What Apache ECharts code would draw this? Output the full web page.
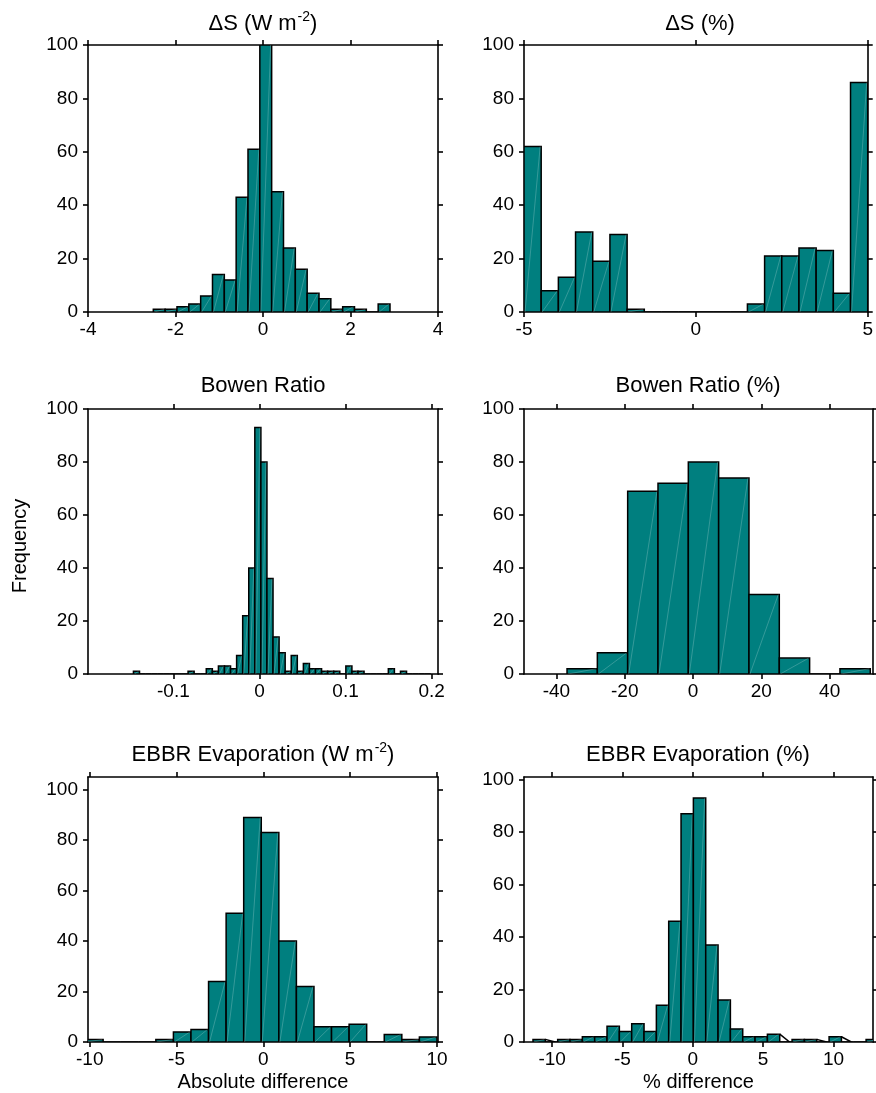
<!DOCTYPE html>
<html lang="en">
<head>
<meta charset="UTF-8" />
<title>Histograms</title>
<script src="https://cdn.jsdelivr.net/npm/echarts@6/dist/echarts.min.js"></script>
<style>
  html, body { margin: 0; padding: 0; background: #fff; }
  #chart { width: 876px; height: 1093px; }
</style>
</head>
<body>
<div id="chart"></div>
<script>
// counts, bin i covers [start + i*width, start + (i+1)*width]
var dsAbsStart = -2.507, dsAbsWidth = 0.2705;
var dsAbsCounts = [1, 1, 2, 3, 6, 14, 12, 43, 61, 100, 45, 24, 16, 7, 5, 1, 2, 1, 0, 3];

var dsPctStart = -5, dsPctWidth = 0.5;
var dsPctCounts = [62, 8, 13, 30, 19, 29, 1, 0, 0, 0, 0, 0, 0, 3, 21, 21, 24, 23, 7, 86];

var brAbsStart = -0.1464, brAbsWidth = 0.00705;
var brAbsCounts = [1, 0, 0, 0, 0, 0, 0, 0, 0, 1, 0, 0, 2, 1, 3, 3, 2, 7, 22, 40,
  93, 80, 36, 14, 8, 1, 7, 1, 4, 2, 2, 1, 1, 1, 0, 3, 1, 1, 0, 0, 0, 0, 2, 0, 1, 0, 0, 0, 0];

var brPctStart = -36.9, brPctWidth = 8.88;
var brPctCounts = [2, 8, 69, 72, 80, 74, 30, 6, 0, 2];

var evAbsStart = -10.24, evAbsWidth = 1.012;
var evAbsCounts = [1, 0, 0, 0, 1, 4, 5, 24, 51, 89, 83, 40, 22, 6, 6, 7, 0, 3, 1, 2];

var evPctStart = -11.36, evPctWidth = 0.877;
var evPctCounts = [1, 0, 1, 1, 2, 2, 6, 4, 7, 4, 14, 46, 87, 93, 37, 16, 5, 2, 2, 3, 0, 1, 1, 0, 2, 0, 0, 1];

// tick labels
var ticksDsAbs = [-4, -2, 0, 2, 4];
var ticksDsPct = [-5, 0, 5];
var ticksBrAbs = [-0.1, 0, 0.1, 0.2];
var ticksBrPct = [-40, -20, 0, 20, 40];
var ticksEvAbs = [-10, -5, 0, 5, 10];
var ticksEvPct = [-10, -5, 0, 5, 10];
var ticksFreq = [0, 20, 40, 60, 80, 100];

var TEAL = '#007f7f';
var FONT = 'Liberation Sans, Arial, Helvetica, sans-serif';

var panels = [
  { start: dsAbsStart, width: dsAbsWidth, counts: dsAbsCounts, ticks: ticksDsAbs, xMin: -4, xMax: 4, yMax: 100,
    grid: { left: 88, top: 45, width: 350, height: 267 } },
  { start: dsPctStart, width: dsPctWidth, counts: dsPctCounts, ticks: ticksDsPct, xMin: -5, xMax: 5, yMax: 100,
    grid: { left: 524, top: 45, width: 349, height: 267 } },
  { start: brAbsStart, width: brAbsWidth, counts: brAbsCounts, ticks: ticksBrAbs, xMin: -0.1992, xMax: 0.2074, yMax: 100,
    grid: { left: 88, top: 409, width: 350, height: 265 } },
  { start: brPctStart, width: brPctWidth, counts: brPctCounts, ticks: ticksBrPct, xMin: -49.5, xMax: 52.7, yMax: 100,
    grid: { left: 524, top: 409, width: 349, height: 265 } },
  { start: evAbsStart, width: evAbsWidth, counts: evAbsCounts, ticks: ticksEvAbs, xMin: -10.1, xMax: 10.06, yMax: 105,
    grid: { left: 88, top: 777, width: 350, height: 265 }, name: 'Absolute difference' },
  { start: evPctStart, width: evPctWidth, counts: evPctCounts, ticks: ticksEvPct, xMin: -12, xMax: 12.81, yMax: 101,
    grid: { left: 524, top: 777, width: 349, height: 266 }, name: '% difference', slope: true }
];

var lineStyle = { color: '#000', width: 1.6 };

function histRender(counts, slope) {
  return function (params, api) {
    var i = params.dataIndex;
    var x0 = api.value(0), x1 = api.value(1), n = api.value(2);
    var bl = api.coord([x0, 0]);
    var tr = api.coord([x1, n]);
    var kids = [{
      type: 'rect',
      shape: { x: bl[0], y: tr[1], width: tr[0] - bl[0], height: bl[1] - tr[1] },
      style: { fill: TEAL, stroke: '#000', lineWidth: 1.5 }
    }];
    if (n > 0) {
      // faint diagonal left by the original polygon fill
      kids.push({
        type: 'line',
        shape: { x1: bl[0] + 1, y1: bl[1], x2: tr[0] - 1, y2: tr[1] },
        style: { stroke: 'rgba(255,255,255,0.3)', lineWidth: 0.7 }
      });
    }
    if (slope && n === 0 && i > 0 && counts[i - 1] > 0) {
      var a = api.coord([x0, counts[i - 1]]);
      var b = api.coord([x0 + 0.8 * (x1 - x0), 0]);
      kids.push({
        type: 'line',
        shape: { x1: a[0], y1: a[1], x2: b[0], y2: b[1] },
        style: { stroke: '#000', lineWidth: 1.5 }
      });
    }
    return { type: 'group', children: kids };
  };
}

var grids = [], xAxes = [], yAxes = [], series = [];
panels.forEach(function (p, k) {
  grids.push(p.grid);
  // bottom + top x axis
  xAxes.push({
    type: 'value', gridIndex: k, position: 'bottom', min: p.xMin, max: p.xMax,
    axisLine: { show: true, onZero: false, lineStyle: lineStyle },
    axisTick: { show: true, length: 5, lineStyle: lineStyle, customValues: p.ticks },
    axisLabel: { show: true, margin: 8, color: '#000', fontSize: 19, fontFamily: FONT, customValues: p.ticks },
    splitLine: { show: false },
    name: p.name || '', nameLocation: 'middle', nameGap: 30,
    nameTextStyle: { color: '#000', fontSize: 20, fontFamily: FONT }
  });
  xAxes.push({
    type: 'value', gridIndex: k, position: 'top', min: p.xMin, max: p.xMax,
    axisLine: { show: true, onZero: false, lineStyle: lineStyle },
    axisTick: { show: true, length: 5, lineStyle: lineStyle, customValues: p.ticks },
    axisLabel: { show: false },
    splitLine: { show: false }
  });
  yAxes.push({
    type: 'value', gridIndex: k, position: 'left', min: 0, max: p.yMax,
    axisLine: { show: true, onZero: false, lineStyle: lineStyle },
    axisTick: { show: true, length: 5, lineStyle: lineStyle, customValues: ticksFreq },
    axisLabel: { show: true, margin: 10, color: '#000', fontSize: 19, fontFamily: FONT, customValues: ticksFreq },
    splitLine: { show: false }
  });
  yAxes.push({
    type: 'value', gridIndex: k, position: 'right', min: 0, max: p.yMax,
    axisLine: { show: true, onZero: false, lineStyle: lineStyle },
    axisTick: { show: true, length: 5, lineStyle: lineStyle, customValues: ticksFreq },
    axisLabel: { show: false },
    splitLine: { show: false }
  });
  var data = p.counts.map(function (c, i) {
    return [p.start + i * p.width, p.start + (i + 1) * p.width, c];
  });
  series.push({
    type: 'custom', xAxisIndex: 2 * k, yAxisIndex: 2 * k, clip: true,
    renderItem: histRender(p.counts, p.slope),
    encode: { x: [0, 1], y: 2 },
    data: data,
    silent: true
  });
});

var titleRich = {
  t: { fontSize: 22, fontFamily: FONT, color: '#000', lineHeight: 28 },
  s: { fontSize: 14, fontFamily: FONT, color: '#000', lineHeight: 28, verticalAlign: 'top', padding: [0, 0, 0, 1] }
};
function title(x, y, text) {
  return {
    type: 'text', x: x, y: y, silent: true,
    style: { text: text, align: 'center', verticalAlign: 'middle', rich: titleRich }
  };
}

var chart = echarts.init(document.getElementById('chart'));
chart.setOption({
  animation: false,
  backgroundColor: '#fff',
  grid: grids,
  xAxis: xAxes,
  yAxis: yAxes,
  series: series,
  graphic: [
    title(263, 24, '{t|ΔS (W m}{s|-2}{t|)}'),
    title(700, 24, '{t|ΔS (%)}'),
    title(263, 386, '{t|Bowen Ratio}'),
    title(698, 386, '{t|Bowen Ratio (%)}'),
    title(263, 755, '{t|EBBR Evaporation (W m}{s|-2}{t|)}'),
    title(698, 755, '{t|EBBR Evaporation (%)}'),
    {
      type: 'text', x: 20, y: 546, rotation: Math.PI / 2, silent: true,
      style: { text: 'Frequency', align: 'center', verticalAlign: 'middle', fontSize: 20, fontFamily: FONT, fill: '#000' }
    }
  ]
});
</script>
</body>
</html>
